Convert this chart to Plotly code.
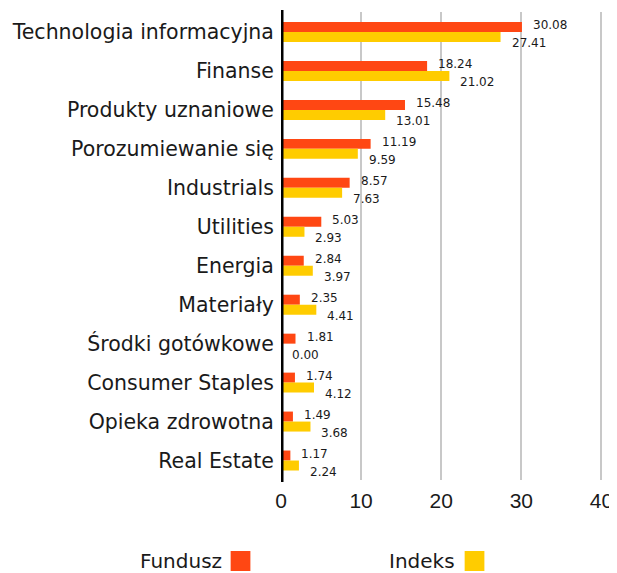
import plotly.graph_objects as go

categories = ["Technologia informacyjna", "Finanse", "Produkty uznaniowe",
              "Porozumiewanie się", "Industrials", "Utilities", "Energia",
              "Materiały", "Środki gotówkowe", "Consumer Staples",
              "Opieka zdrowotna", "Real Estate"]
fundusz = [30.08, 18.24, 15.48, 11.19, 8.57, 5.03, 2.84, 2.35, 1.81, 1.74, 1.49, 1.17]
indeks = [27.41, 21.02, 13.01, 9.59, 7.63, 2.93, 3.97, 4.41, 0.00, 4.12, 3.68, 2.24]
x_ticks = [0, 10, 20, 30, 40]
series_names = ["Fundusz", "Indeks"]

OFF = 8  # page body margin
W, H = 617 - OFF, 573 - OFF
XMAX = 40.2
ML, MT, MB = 280 - OFF, 12 - OFF, 93
PX_PER_UNIT = (604.5 - 280) / 40
MR = W - ML - PX_PER_UNIT * XMAX
FONT = "DejaVu Sans"
FONT_X = "Liberation Sans"
C_FUND = "#ff4713"
C_IDX = "#ffcc00"
TXT = "#1a1a1a"

fig = go.Figure()
fig.add_trace(go.Bar(y=categories, x=fundusz, orientation="h", name=series_names[0],
                     marker=dict(color=C_FUND, line=dict(width=0)), showlegend=False))
fig.add_trace(go.Bar(y=categories, x=indeks, orientation="h", name=series_names[1],
                     marker=dict(color=C_IDX, line=dict(width=0)), showlegend=False))

ann = []
for c, f, i in zip(categories, fundusz, indeks):
    ann.append(dict(x=f, y=c, xref="x", yref="y", text=f"{f:.2f}", showarrow=False,
                    xanchor="left", yanchor="middle", xshift=9, yshift=7,
                    font=dict(family=FONT, size=12, color=TXT)))
    ann.append(dict(x=i, y=c, xref="x", yref="y", text=f"{i:.2f}", showarrow=False,
                    xanchor="left", yanchor="middle", xshift=9, yshift=-11,
                    font=dict(family=FONT, size=12, color=TXT)))

pw = W - ML - MR
ph = H - MT - MB
def px(xp):
    return (xp - OFF - ML) / pw
def py(yp):
    return (H - MB - (yp - OFF)) / ph

# legend (text left of square)
shapes = []
for name, col, txt_right, sq_left in [(series_names[0], C_FUND, 222, 229),
                                       (series_names[1], C_IDX, 458, 466)]:
    ann.append(dict(x=px(txt_right), y=py(561), xref="paper", yref="paper", text=name,
                    showarrow=False, xanchor="right", yanchor="middle",
                    font=dict(family=FONT, size=20, color=TXT)))
    shapes.append(dict(type="rect", xref="paper", yref="paper",
                       x0=px(sq_left), x1=px(sq_left + 20), y0=py(571), y1=py(551),
                       fillcolor=col, line=dict(width=0), layer="above"))

# thick zero line
shapes.append(dict(type="line", xref="x", yref="paper", x0=0, x1=0,
                   y0=py(482), y1=py(10), line=dict(color="black", width=5), layer="above"))

fig.update_layout(
    width=W, height=H,
    margin=dict(l=ML, r=MR, t=MT, b=MB, pad=0),
    barmode="group", bargap=0.487, bargroupgap=0,
    paper_bgcolor="white", plot_bgcolor="white",
    font=dict(family=FONT, color=TXT),
    annotations=ann, shapes=shapes,
    showlegend=False,
    xaxis=dict(range=[0, XMAX], tickvals=x_ticks, showgrid=True, gridcolor="#c8c8c8",
               gridwidth=2, zeroline=False, showline=False,
               ticks="outside", ticklen=2, tickcolor="rgba(0,0,0,0)",
               ticklabeloverflow="allow",
               tickfont=dict(family=FONT_X, size=21, color=TXT), fixedrange=True),
    yaxis=dict(autorange="reversed", showgrid=False, zeroline=False, showline=False,
               ticks="outside", ticklen=2, tickcolor="rgba(0,0,0,0)",
               tickfont=dict(family=FONT, size=20.5, color=TXT)),
)

fig.write_html("out.html")
